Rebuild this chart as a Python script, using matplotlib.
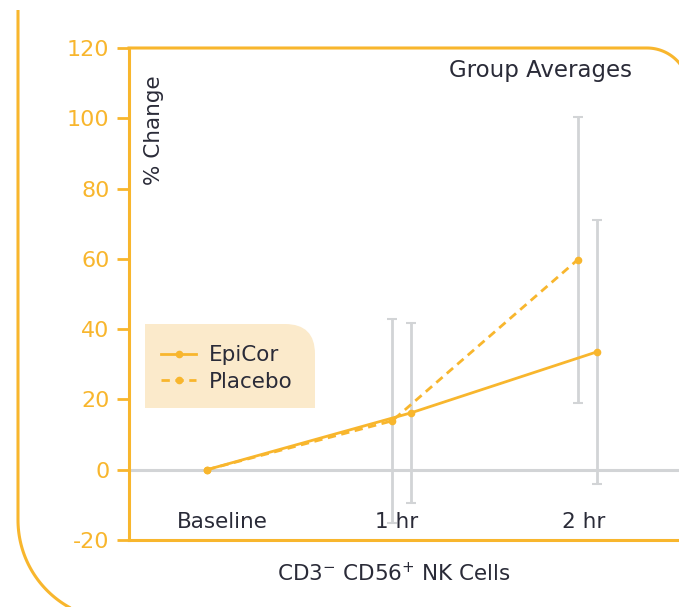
import numpy as np
import matplotlib.pyplot as plt
from matplotlib.path import Path
from matplotlib.patches import PathPatch

# данные (с картинки)
categories = ['Baseline', '1 hr', '2 hr']
cat_pos = [0.0, 1.025, 2.0]
epicor = [0.0, 16.2, 33.5]
epicor_err = [0.0, 25.6, 37.6]
placebo = [0.0, 13.9, 59.7]
placebo_err = [0.0, 29.0, 40.8]
y_ticks = [-20, 0, 20, 40, 60, 80, 100, 120]

ORANGE = '#F8B62D'
GRAY = '#D2D4D6'
DARK = '#2A2B38'
FONT = 'DejaVu Sans'
plt.rcParams['axes.unicode_minus'] = False

W, H = 679, 607
fig = plt.figure(figsize=(W / 100, H / 100), dpi=100)

# фон: рамки в пикселях
bg = fig.add_axes([0, 0, 1, 1], zorder=0)
bg.set_xlim(0, W)
bg.set_ylim(H, 0)
bg.axis('off')

# внешняя рамка слева с закруглением (уходит за нижний край)
t = np.linspace(np.pi, np.pi / 2, 60)
ox = np.concatenate([[18, 18], 118 + 100 * np.cos(t)])
oy = np.concatenate([[10, 520], 520 + 100 * np.sin(t)])
bg.plot(ox, oy, color=ORANGE, lw=2.2, solid_capstyle='butt')

# верхняя линия графика с закругленным углом
t = np.linspace(-np.pi / 2, 0, 40)
tx = np.concatenate([[129], 647 + 42 * np.cos(t)])
ty = np.concatenate([[48], 90 + 42 * np.sin(t)])
bg.plot(tx, ty, color=ORANGE, lw=2.2)

# фон легенды (скруглен только правый верхний угол)
verts = [(145, 408), (145, 324), (285, 324), (315, 324), (315, 354), (315, 408), (145, 408)]
codes = [Path.MOVETO, Path.LINETO, Path.LINETO, Path.CURVE3, Path.CURVE3, Path.LINETO, Path.CLOSEPOLY]
bg.add_patch(PathPatch(Path(verts, codes), facecolor='#FBEACB', edgecolor='none'))

# основной график
ax = fig.add_axes([129 / W, 67 / H, (W - 129) / W, 492 / H], zorder=1)
ax.set_facecolor('none')
ax.set_xlim(-0.41, 2.484)
ax.set_ylim(-20, 120)

ax.axhline(0, color=GRAY, lw=2.2, zorder=1)

off = 0.05
xp = [cat_pos[0]] + [p - off for p in cat_pos[1:]]
xe = [cat_pos[0]] + [p + off for p in cat_pos[1:]]

ax.errorbar(xp[1:], placebo[1:], yerr=placebo_err[1:], fmt='none', ecolor=GRAY,
            elinewidth=2, capsize=3.5, capthick=1.5, zorder=2)
ax.errorbar(xe[1:], epicor[1:], yerr=epicor_err[1:], fmt='none', ecolor=GRAY,
            elinewidth=2, capsize=3.5, capthick=1.5, zorder=2)

ax.plot(xe, epicor, color=ORANGE, lw=2, marker='o', ms=4.5, label='EpiCor', zorder=3)
ax.plot(xp, placebo, color=ORANGE, lw=2, ls=(0, (3, 2)), marker='o', ms=4.5,
        label='Placebo', zorder=3)

for spine in ['top', 'right']:
    ax.spines[spine].set_visible(False)
for spine in ['left', 'bottom']:
    ax.spines[spine].set_color(ORANGE)
    ax.spines[spine].set_linewidth(2.2)

ax.set_yticks(y_ticks)
ax.tick_params(axis='y', colors=ORANGE, length=9, width=2, pad=5, labelsize=16)
for lab in ax.get_yticklabels():
    lab.set_fontfamily(FONT)
ax.set_xticks([])

# подписи категорий внутри осей
label_x = [0.08, 1.0, 1.98]
for x, name in zip(label_x, categories):
    ax.text(x, -15.0, name, ha='center', va='center', fontsize=15.5,
            color=DARK, family=FONT)

ax.text(0.045, 0.945, '% Change', transform=ax.transAxes, rotation=90,
        ha='center', va='top', fontsize=15.5, color=DARK, family=FONT)
ax.text(0.915, 0.955, 'Group Averages', transform=ax.transAxes,
        ha='right', va='center', fontsize=16.5, color=DARK, family=FONT)

ax.set_xlabel(r'CD3$^{-}$ CD56$^{+}$ NK Cells', fontsize=15.5, color=DARK,
              family=FONT)
ax.xaxis.set_label_coords((394 - 129) / (W - 129), -0.045)

leg = ax.legend(loc='upper left', bbox_to_anchor=(142 / W, 1 - 326 / H),
                bbox_transform=fig.transFigure, frameon=False,
                handlelength=1.6, handletextpad=0.6, labelspacing=0.3,
                prop={'family': FONT, 'size': 15.5})
for txt in leg.get_texts():
    txt.set_color(DARK)

fig.savefig('out.png', dpi=100)
